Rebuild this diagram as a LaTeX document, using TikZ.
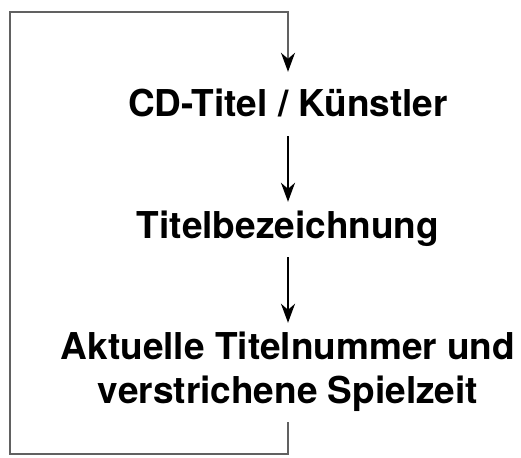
\documentclass[tikz,border=0pt]{standalone}
\usepackage{fontspec}
\setmainfont{TeX Gyre Heros}
\usetikzlibrary{arrows.meta}
\definecolor{loopgray}{rgb}{0.38,0.38,0.38}
\begin{document}
\begin{tikzpicture}[
        x=1pt, y=-1pt,
        every node/.style={font=\fontsize{37}{44}\selectfont\bfseries, align=center,
            text height=26pt, text depth=9pt, inner ysep=10pt, anchor=base},
        flow/.style={line width=2pt, -{Stealth[length=19pt,width=14pt,inset=6pt]}},
        back/.style={line width=1.5pt, draw=loopgray, -{Stealth[length=19pt,width=14pt,inset=6pt,black]}}
    ]
    \useasboundingbox (0,0) rectangle (521,457);
    \node (cdtitle) at (288,117) {CD-Titel / K\"unstler};
    \node (tracktitle) at (288,238) {Titelbezeichnung};
    \node[text height=70pt] (tracktime) at (288,403) {Aktuelle Titelnummer und\\verstrichene Spielzeit};
    \coordinate (lowleft) at (10,454);
    \coordinate (upleft) at (10,12);
    \draw[flow] (cdtitle.south) -- (tracktitle.north);
    \draw[flow] (tracktitle.south) -- (tracktime.north);
    \draw[back, shorten >=9pt] (tracktime.south) |- (lowleft) -- (upleft) -| (cdtitle.north);
\end{tikzpicture}
\end{document}
